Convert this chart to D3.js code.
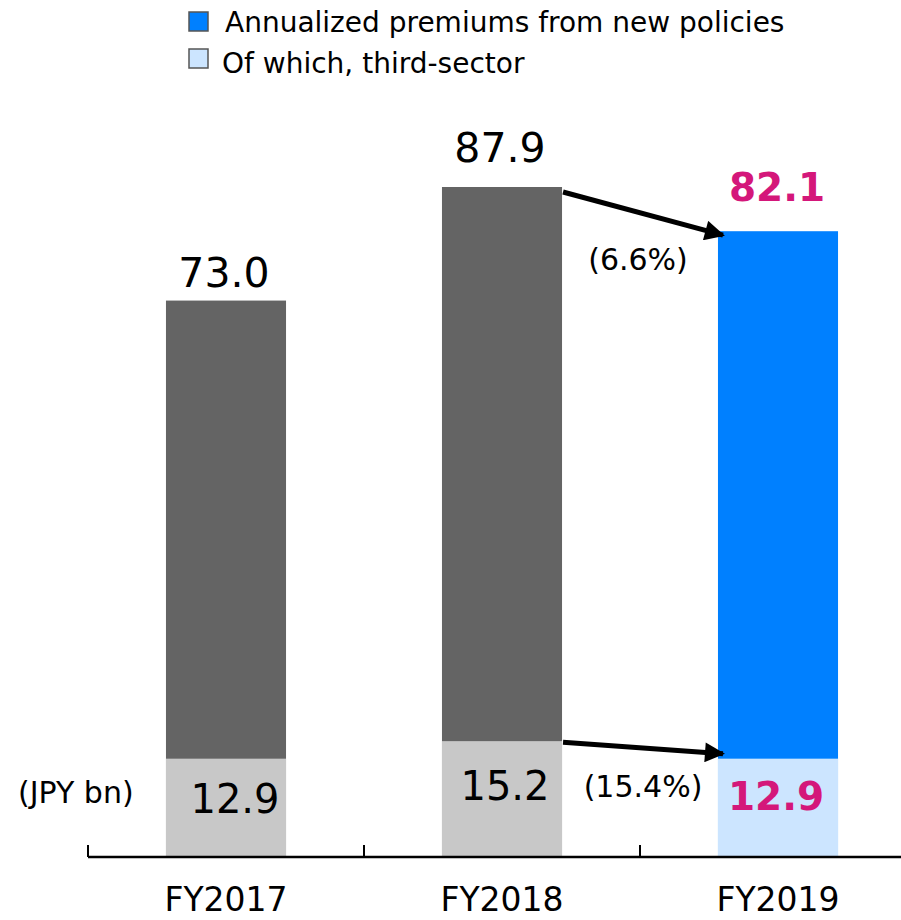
<!DOCTYPE html>
<html>
<head>
<meta charset="utf-8">
<script src="https://cdn.jsdelivr.net/npm/d3@7"></script>
<style>
  body { margin: 0; background: #fff; }
  svg { font-family: "DejaVu Sans", Verdana, sans-serif; }
</style>
</head>
<body>
<svg id="chart" width="901" height="920"></svg>
<script>
var years = ["FY2017", "FY2018", "FY2019"];
var totals = [73.0, 87.9, 82.1];
var thirdSector = [12.9, 15.2, 12.9];
var changes = ["(6.6%)", "(15.4%)"];
var legendLabels = ["Annualized premiums from new policies", "Of which, third-sector"];

var svg = d3.select("#chart");
var baseY = 857;

var x = d3.scaleBand().domain(years).range([88, 916]).padding(0);
var y = d3.scaleLinear().domain([0, 87.9]).range([baseY, 187]);
var barW = x.bandwidth() * 0.435;

function barX(d) { return x(d) + (x.bandwidth() - barW) / 2; }
function mid(d) { return x(d) + x.bandwidth() / 2; }
function isLast(i) { return i === years.length - 1; }

// legend
var legend = svg.append("g");
legend.append("rect").attr("x", 189).attr("y", 12).attr("width", 19).attr("height", 19)
  .attr("fill", "#0080ff").attr("stroke", "#555").attr("stroke-width", 1.5);
legend.append("rect").attr("x", 189).attr("y", 49).attr("width", 19).attr("height", 19)
  .attr("fill", "#cce5ff").attr("stroke", "#555").attr("stroke-width", 1.5);
legend.selectAll("text").data(legendLabels).enter().append("text")
  .attr("x", function(d, i) { return i ? 222 : 225; })
  .attr("y", function(d, i) { return 32 + i * 41; })
  .style("font-size", "28px")
  .text(function(d) { return d; });

// total bars
svg.selectAll(".total").data(years).enter().append("rect")
  .attr("class", "total")
  .attr("x", barX)
  .attr("width", barW)
  .attr("y", function(d, i) { return y(totals[i]); })
  .attr("height", function(d, i) { return baseY - y(totals[i]); })
  .attr("fill", function(d, i) { return isLast(i) ? "#0080ff" : "#646464"; });

// third-sector bars
svg.selectAll(".third").data(years).enter().append("rect")
  .attr("class", "third")
  .attr("x", barX)
  .attr("width", barW)
  .attr("y", function(d, i) { return y(thirdSector[i]); })
  .attr("height", function(d, i) { return baseY - y(thirdSector[i]); })
  .attr("fill", function(d, i) { return isLast(i) ? "#cce5ff" : "#c8c8c8"; });

// total labels
var topGap = [14, 25, 30];
var topDx = [-2, -2, -1];
svg.selectAll(".tlab").data(years).enter().append("text")
  .attr("x", function(d, i) { return mid(d) + topDx[i]; })
  .attr("y", function(d, i) { return y(totals[i]) - topGap[i]; })
  .attr("text-anchor", "middle")
  .style("font-size", function(d, i) { return isLast(i) ? "39px" : "41px"; })
  .style("font-weight", function(d, i) { return isLast(i) ? "bold" : "normal"; })
  .attr("fill", function(d, i) { return isLast(i) ? "#d4177a" : "#000"; })
  .text(function(d, i) { return totals[i].toFixed(1); });

// third-sector labels
var thirdDx = [9, 3, -2];
var thirdBase = [813, 800, 810];
svg.selectAll(".slab").data(years).enter().append("text")
  .attr("x", function(d, i) { return mid(d) + thirdDx[i]; })
  .attr("y", function(d, i) { return thirdBase[i]; })
  .attr("text-anchor", "middle")
  .style("font-size", function(d, i) { return isLast(i) ? "39px" : "40px"; })
  .style("font-weight", function(d, i) { return isLast(i) ? "bold" : "normal"; })
  .attr("fill", function(d, i) { return isLast(i) ? "#d4177a" : "#000"; })
  .text(function(d, i) { return thirdSector[i].toFixed(1); });

// arrows
var defs = svg.append("defs");
defs.append("marker").attr("id", "head")
  .attr("viewBox", "0 0 10 10").attr("refX", 9).attr("refY", 5)
  .attr("markerWidth", 4.2).attr("markerHeight", 4)
  .attr("markerUnits", "strokeWidth")
  .attr("orient", "auto")
  .append("path").attr("d", "M0,0 L10,5 L0,10 Z").attr("fill", "#000");

var fromX = barX(years[1]) + barW;
var toX = barX(years[2]);
var arrows = [
  { y1: y(totals[1]) + 5, y2: y(totals[2]) + 4 },
  { y1: y(thirdSector[1]) + 1, y2: y(thirdSector[2]) - 5 }
];
svg.selectAll(".arrow").data(arrows).enter().append("line")
  .attr("x1", fromX + 1).attr("y1", function(d) { return d.y1; })
  .attr("x2", toX + 5).attr("y2", function(d) { return d.y2; })
  .attr("stroke", "#000").attr("stroke-width", 5)
  .attr("marker-end", "url(#head)");

// change labels
var changeX = [638, 643];
var changeY = [270, 797];
svg.selectAll(".chg").data(changes).enter().append("text")
  .attr("x", function(d, i) { return changeX[i]; })
  .attr("y", function(d, i) { return changeY[i]; })
  .attr("text-anchor", "middle")
  .style("font-size", "30px")
  .text(function(d) { return d; });

svg.append("text").attr("x", 18).attr("y", 803)
  .style("font-size", "30px").text("(JPY bn)");

// axis
var axis = svg.append("g").attr("transform", "translate(0," + baseY + ")");
axis.append("line").attr("x1", 88).attr("x2", 901)
  .attr("stroke", "#000").attr("stroke-width", 2.5);
axis.selectAll(".tick").data(years).enter().append("line")
  .attr("x1", function(d) { return x(d); }).attr("x2", function(d) { return x(d); })
  .attr("y1", 0).attr("y2", -12)
  .attr("stroke", "#000").attr("stroke-width", 2);
axis.selectAll(".cat").data(years).enter().append("text")
  .attr("x", mid)
  .attr("y", 54)
  .attr("text-anchor", "middle")
  .style("font-size", "33px")
  .text(function(d) { return d; });
</script>
</body>
</html>
